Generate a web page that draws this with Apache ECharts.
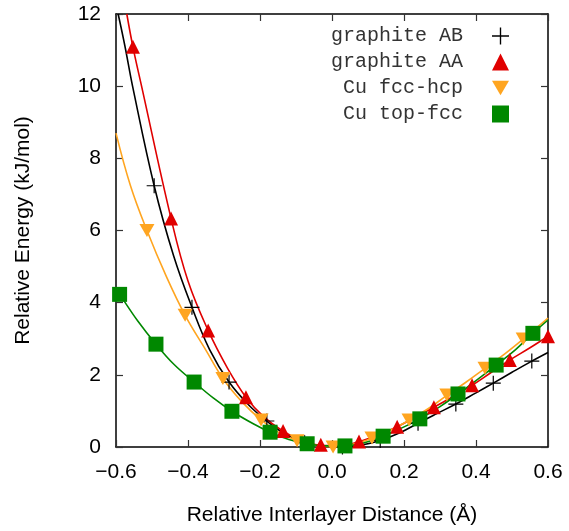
<!DOCTYPE html>
<html>
<head>
<meta charset="utf-8">
<title>Relative Energy</title>
<script src="https://cdn.jsdelivr.net/npm/echarts@6/dist/echarts.min.js"></script>
<style>
  html, body { margin: 0; padding: 0; background: #fff; }
  #chart { width: 569px; height: 531px; }
</style>
</head>
<body>
<div id="chart"></div>
<script>
// measured points (x in Å, y in kJ/mol)
var abX = [-0.494, -0.389, -0.286, -0.181, -0.076, 0.029, 0.134, 0.239, 0.344, 0.448, 0.555];
var abY = [7.24, 3.87, 1.80, 0.72, 0.12, 0.0, 0.18, 0.66, 1.19, 1.77, 2.38];

var aaX = [-0.553, -0.447, -0.344, -0.239, -0.136, -0.031, 0.075, 0.181, 0.283, 0.389, 0.494, 0.600];
var aaY = [11.09, 6.33, 3.23, 1.38, 0.44, 0.06, 0.15, 0.56, 1.10, 1.71, 2.41, 3.07];

var hcpX = [-0.514, -0.408, -0.303, -0.197, -0.097, 0.003, 0.111, 0.214, 0.319, 0.425, 0.531];
var hcpY = [6.0, 3.65, 1.90, 0.75, 0.17, 0.0, 0.25, 0.75, 1.44, 2.18, 2.99];

var topX = [-0.590, -0.489, -0.383, -0.278, -0.172, -0.069, 0.036, 0.142, 0.244, 0.350, 0.456, 0.558];
var topY = [4.23, 2.85, 1.80, 0.99, 0.41, 0.09, 0.03, 0.30, 0.78, 1.47, 2.27, 3.15];

// fitted curves
var abFitX = [-0.594, -0.575, -0.554, -0.494, -0.44, -0.389, -0.34, -0.286, -0.23, -0.181, -0.13, -0.076, -0.02, 0.029, 0.08, 0.134, 0.19, 0.239, 0.29, 0.344, 0.40, 0.448, 0.50, 0.555, 0.600];
var abFitY = [12.0, 11.1, 10.0, 7.24, 5.3, 3.87, 2.7, 1.80, 1.15, 0.72, 0.36, 0.12, 0.02, 0.0, 0.05, 0.18, 0.40, 0.66, 0.92, 1.19, 1.50, 1.77, 2.07, 2.38, 2.62];

var aaFitX = [-0.570, -0.553, -0.529, -0.447, -0.40, -0.344, -0.29, -0.239, -0.19, -0.136, -0.08, -0.031, 0.02, 0.075, 0.13, 0.181, 0.23, 0.283, 0.34, 0.389, 0.44, 0.494, 0.55, 0.600];
var aaFitY = [12.0, 11.09, 10.0, 6.33, 4.6, 3.23, 2.18, 1.38, 0.84, 0.44, 0.16, 0.05, 0.04, 0.15, 0.34, 0.56, 0.82, 1.10, 1.42, 1.71, 2.05, 2.41, 2.75, 3.07];

var hcpFitX = [-0.600, -0.56, -0.514, -0.46, -0.408, -0.35, -0.303, -0.25, -0.197, -0.15, -0.097, -0.05, 0.003, 0.06, 0.111, 0.16, 0.214, 0.27, 0.319, 0.37, 0.425, 0.48, 0.531, 0.600];
var hcpFitY = [8.70, 7.25, 6.0, 4.72, 3.65, 2.68, 1.90, 1.25, 0.75, 0.42, 0.17, 0.05, 0.0, 0.08, 0.24, 0.45, 0.74, 1.08, 1.43, 1.78, 2.18, 2.58, 2.99, 3.57];

var topFitX = [-0.600, -0.590, -0.54, -0.489, -0.44, -0.383, -0.33, -0.278, -0.22, -0.172, -0.12, -0.069, -0.02, 0.036, 0.09, 0.142, 0.19, 0.244, 0.30, 0.350, 0.40, 0.456, 0.51, 0.558, 0.600];
var topFitY = [4.36, 4.23, 3.50, 2.85, 2.30, 1.80, 1.36, 0.99, 0.65, 0.41, 0.21, 0.09, 0.03, 0.03, 0.12, 0.30, 0.51, 0.78, 1.12, 1.47, 1.84, 2.27, 2.70, 3.15, 3.52];

var names = ['graphite AB', 'graphite AA', 'Cu fcc-hcp', 'Cu top-fcc'];
var colors = ['#000000', '#e00000', '#ffa520', '#008800'];

function pairs(xs, ys) {
  return xs.map(function (x, i) { return [x, ys[i]]; });
}

var plusPath = 'path://M9.2,0H10.8V9.2H20V10.8H10.8V20H9.2V10.8H0V9.2H9.2Z';
var downTri = 'path://M0,0L20,0L10,17.3Z';

var chart = echarts.init(document.getElementById('chart'));

function fitLine(xs, ys, idx) {
  return {
    type: 'line',
    data: pairs(xs, ys),
    smooth: 0.4,
    showSymbol: false,
    silent: true,
    lineStyle: { color: colors[idx], width: 1.6 },
    z: 2 + idx
  };
}

function marks(xs, ys, idx, symbol, size) {
  return {
    name: names[idx],
    type: 'scatter',
    data: pairs(xs, ys),
    symbol: symbol,
    symbolSize: size,
    itemStyle: { color: colors[idx], opacity: 1 },
    z: 10 + idx
  };
}

var tickFont = { fontFamily: 'Liberation Sans', fontSize: 21, color: '#000' };
var tickStyle = { inside: true, length: 7, lineStyle: { color: '#333', width: 1.2 } };
var axLine = { show: true, onZero: false, lineStyle: { color: '#000', width: 1.5 } };

chart.setOption({
  animation: false,
  backgroundColor: '#fff',
  grid: { left: 116, right: 21, top: 14, bottom: 82 },
  legend: {
    data: names.map(function (n, i) {
      return { name: n, icon: [plusPath, 'triangle', downTri, 'rect'][i] };
    }),
    orient: 'vertical',
    align: 'right',
    right: 55,
    top: 21,
    itemGap: 6,
    itemWidth: 17,
    itemHeight: 17,
    selectedMode: false,
    textStyle: { fontFamily: 'Liberation Mono', fontSize: 20, color: '#333', padding: [0, 24, 0, 0] }
  },
  xAxis: [{
    type: 'value',
    min: -0.6, max: 0.6, interval: 0.2,
    name: 'Relative Interlayer Distance (Å)',
    nameLocation: 'middle',
    nameGap: 58,
    nameTextStyle: { fontFamily: 'Liberation Sans', fontSize: 21, color: '#000' },
    axisLine: axLine,
    axisTick: tickStyle,
    splitLine: { show: false },
    axisLabel: Object.assign({ margin: 15, formatter: function (v) {
      var s = Math.abs(v).toFixed(1);
      return v < -1e-9 ? '\u2212' + s : s;
    } }, tickFont)
  }, {
    type: 'value', position: 'top',
    min: -0.6, max: 0.6, interval: 0.2,
    axisLine: axLine,
    axisTick: tickStyle,
    axisLabel: { show: false },
    splitLine: { show: false }
  }],
  yAxis: [{
    type: 'value',
    min: 0, max: 12, interval: 2,
    name: 'Relative Energy (kJ/mol)',
    nameLocation: 'middle',
    nameGap: 82,
    nameTextStyle: { fontFamily: 'Liberation Sans', fontSize: 21, color: '#000' },
    axisLine: axLine,
    axisTick: Object.assign({ show: true }, tickStyle),
    splitLine: { show: false },
    axisLabel: Object.assign({ margin: 15 }, tickFont)
  }, {
    type: 'value', position: 'right',
    min: 0, max: 12, interval: 2,
    axisLine: axLine,
    axisTick: Object.assign({ show: true }, tickStyle),
    axisLabel: { show: false },
    splitLine: { show: false }
  }],
  series: [
    fitLine(abFitX, abFitY, 0),
    fitLine(aaFitX, aaFitY, 1),
    fitLine(hcpFitX, hcpFitY, 2),
    fitLine(topFitX, topFitY, 3),
    marks(abX, abY, 0, plusPath, 15),
    marks(aaX, aaY, 1, 'triangle', 14),
    marks(hcpX, hcpY, 2, downTri, [15, 13]),
    marks(topX, topY, 3, 'rect', 15)
  ]
});
</script>
</body>
</html>
